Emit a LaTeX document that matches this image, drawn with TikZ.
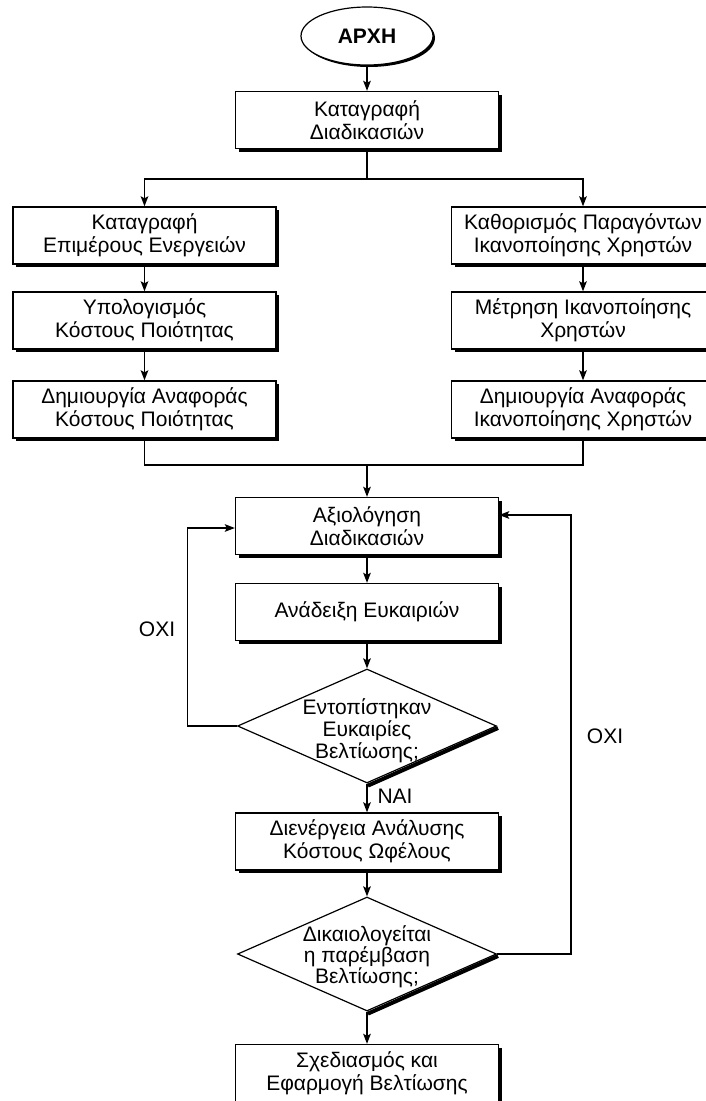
\documentclass[tikz,border=0pt]{standalone}
\usepackage{fontspec}
\setmainfont{Liberation Sans}
\usetikzlibrary{shapes.geometric,arrows.meta,shadows}
\begin{document}
\begin{tikzpicture}[x=1pt,y=-1pt,
  txt/.style={font=\fontsize{21}{23}\selectfont},
  box/.style={txt,draw,line width=1.3pt,fill=white,minimum width=263pt,minimum height=57pt,inner sep=0pt,align=center,
    drop shadow={shadow xshift=3pt,shadow yshift=-3pt,opacity=1,fill=black}},
  dia/.style={draw,diamond,line width=1.2pt,fill=white,minimum width=259pt,minimum height=114pt,inner sep=0pt},
  dtext/.style={txt,align=center,inner sep=0pt},
  conn/.style={line width=1.8pt},
  arr/.style={conn,-{Stealth[length=10pt,width=7.5pt,inset=2pt]}},
  lbl/.style={txt,inner sep=0pt},
  dshadow/.style={line width=4pt}
]
\clip (0,0) rectangle (706,1101);
\fill[white] (0,0) rectangle (706,1101);

\node[draw,ellipse,minimum width=132pt,minimum height=58pt,line width=1.2pt,fill=white,
  font=\bfseries\fontsize{21}{24}\selectfont,
  drop shadow={shadow xshift=2pt,shadow yshift=-2pt,opacity=1,fill=black}] (start) at (367,36) {ΑΡΧΗ};

\node[box] (b1) at (367,120) {Καταγραφή\\Διαδικασιών};

\node[box] (l1) at (144.5,235.5) {Καταγραφή\\Επιμέρους Ενεργειών};
\node[box] (l2) at (144.5,320.5) {Υπολογισμός\\Κόστους Ποιότητας};
\node[box] (l3) at (144.5,409.5) {Δημιουργία Αναφοράς\\Κόστους Ποιότητας};

\node[box] (r1) at (583,235.5) {Καθορισμός Παραγόντων\\Ικανοποίησης Χρηστών};
\node[box] (r2) at (583,320.5) {Μέτρηση Ικανοποίησης\\Χρηστών};
\node[box] (r3) at (583,409.5) {Δημιουργία Αναφοράς\\Ικανοποίησης Χρηστών};

\node[box] (a) at (367,526) {Αξιολόγηση\\Διαδικασιών};
\node[box] (b) at (367,612) {Ανάδειξη Ευκαιριών};

\node[dia] (d1) at (367,726) {};
\draw[dshadow] ([xshift=0.9pt,yshift=-2pt]d1.south) -- ([xshift=0.9pt,yshift=-2pt]d1.east);
\node[dtext,font=\fontsize{21}{22}\selectfont] (d1t) at ([yshift=-5pt]d1.center) {Εντοπίστηκαν\\Ευκαιρίες\\Βελτίωσης;};

\node[box] (c) at (367,841.5) {Διενέργεια Ανάλυσης\\Κόστους Ωφέλους};

\node[dia] (d2) at (367,954) {};
\draw[dshadow] ([xshift=0.9pt,yshift=-2pt]d2.south) -- ([xshift=0.9pt,yshift=-2pt]d2.east);
\node[dtext,font=\fontsize{21}{17}\selectfont] (d2t) at ([yshift=-3pt]d2.center) {Δικαιολογείται\\η παρέμβαση\\Βελτίωσης;};

\node[box] (e) at (367,1073) {Σχεδιασμός και\\Εφαρμογή Βελτίωσης};

\coordinate (split) at (367,179);
\coordinate (merge) at (367,465);

\draw[arr] (start) -- (b1);
\draw[conn] (b1.south) -- (split);
\draw[arr] (split) -| (l1.north);
\draw[arr] (split) -| (r1.north);
\draw[arr] (l1) -- (l2);
\draw[arr] (l2) -- (l3);
\draw[arr] (r1) -- (r2);
\draw[arr] (r2) -- (r3);
\draw[conn] (l3.south) |- (merge);
\draw[conn] (r3.south) |- (merge);
\draw[arr] (merge) -- (a.north);
\draw[arr] (a) -- (b);
\draw[arr] (b.south) -- (d1.north);
\draw[arr] (d1.south) -- (c.north);
\draw[arr] (c.south) -- (d2.north);
\draw[arr] (d2.south) -- (e.north);

\draw[arr] (d1.west) -- ++(-49.5,0) |- ([yshift=-2pt]a.west);
\draw[arr] (d2.east) -- ++(73.5,0) |- ([yshift=11pt]a.east);

\node[lbl] (no1) at (157,629) {ΟΧΙ};
\node[lbl] (no2) at (605,736) {ΟΧΙ};
\node[lbl] (yes) at (395,796) {ΝΑΙ};
\end{tikzpicture}
\end{document}
